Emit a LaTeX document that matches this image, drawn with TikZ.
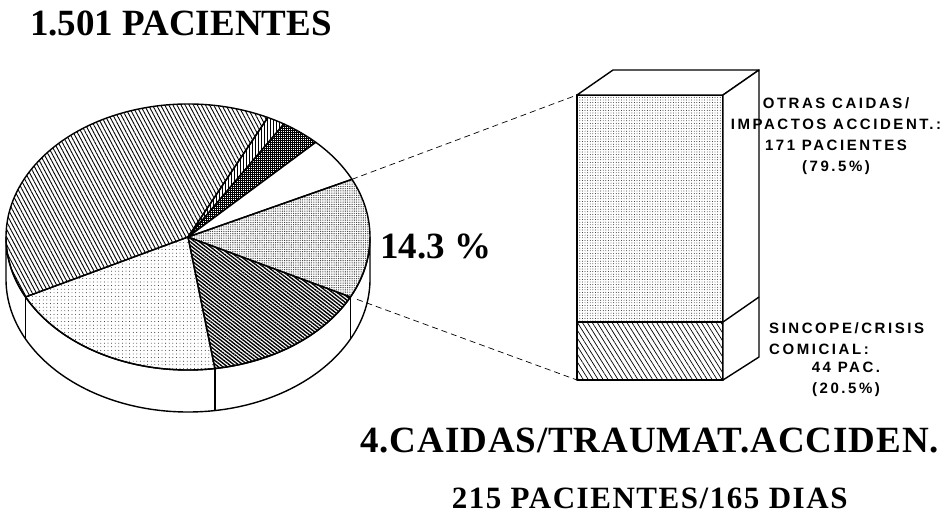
\documentclass[tikz,border=0pt]{standalone}
\usepackage{fontspec}
\setmainfont{Liberation Serif}
\setsansfont{Liberation Sans}
\usetikzlibrary{patterns.meta,positioning}

\tikzset{
  rim/.style={line width=1.4pt},
  bigtext/.style={font=\bfseries\fontsize{37}{40}\selectfont, inner sep=0pt},
  cattext/.style={font=\bfseries\fontsize{37}{40}\selectfont\addfontfeature{LetterSpace=2.5}, inner sep=0pt},
  midtext/.style={font=\bfseries\fontsize{31}{36}\selectfont\addfontfeature{LetterSpace=5}, inner sep=0pt},
  boxtext/.style={font=\sffamily\bfseries\fontsize{15}{21.3}\selectfont\addfontfeature{LetterSpace=17}, inner sep=0pt},
  face/.style={draw, line width=1.4pt, inner sep=0pt, outer sep=0pt, minimum width=146pt},
  link/.style={line width=0.7pt, dash pattern=on 6pt off 4pt},
  slicebig/.style={pattern={Lines[angle=-62,distance=3.6pt,line width=0.9pt]}},
  slicestripe/.style={pattern={Lines[angle=90,distance=3pt,line width=0.9pt]}},
  slicecross/.style={pattern={Hatch[distance=2pt,line width=0.6pt]}},
  slicewhite/.style={fill=white},
  slicedots/.style={pattern={Dots[distance=1.8pt,radius=0.45pt]}},
  slicedark/.style={pattern={Lines[angle=-38,distance=2.8pt,line width=1.4pt]}},
  slicelight/.style={pattern={Dots[distance=3.6pt,radius=0.45pt]}},
}

\begin{document}
\begin{tikzpicture}[x=1pt, y=-1pt, line join=round]
\useasboundingbox (0,0) rectangle (949,516);
\node[bigtext, anchor=base west] (total) at (30,36) {1.501 PACIENTES};

% tarta
\begin{scope}[shift={(188,237)}, y=1pt, rim]
  \draw[fill=white] (180:182 and 133) arc[start angle=180, end angle=360, x radius=182, y radius=133]
    -- ++(0,-42) arc[start angle=360, end angle=180, x radius=182, y radius=133] -- cycle;
  \foreach \a in {206.8,278.5,333.2}
    \draw (\a:182 and 133) -- ++(0,-42);
  \foreach \a/\b/\s in {64/206.8/slicebig, 58.2/64/slicestripe, 45.4/58.2/slicecross,
                        25.7/45.4/slicewhite, -26.8/25.7/slicedots, -81.5/-26.8/slicedark,
                        206.8/278.5/slicelight}
    \draw[\s] (0,0) -- (\a:182 and 133) arc[start angle=\a, end angle=\b, x radius=182, y radius=133] -- cycle;
  \coordinate (rimtop) at (25.7:182 and 133);
  \coordinate (rimbot) at (333.2:182 and 133);
\end{scope}
\node[bigtext, anchor=base west] (pct) at (380,258) {14.3~\%};

% columna
\node[face, minimum height=227pt, anchor=north west, pattern={Dots[distance=2.6pt,radius=0.45pt]}] (otras) at (577,95) {};
\node[face, minimum height=58pt, below=0pt of otras, pattern={Lines[angle=-58,distance=4.2pt,line width=0.7pt]}] (sincope) {};
\draw[rim, fill=white] (otras.north west) -- ++(36,-25) -- ++(146,0) -- (otras.north east) -- cycle;
\draw[rim, fill=white] (otras.north east) -- ++(36,-25) -- ++(0,287) -- (sincope.south east) -- cycle;
\draw[rim] (sincope.north east) -- ++(36,-25);
\draw[link] (rimtop) -- (otras.north west);
\draw[link, shorten <=7pt] (rimbot) -- (sincope.south west);

\node[boxtext, align=center, anchor=north] (otraslbl) at (836,97) {OTRAS CAIDAS/\\IMPACTOS ACCIDENT.:\\171 PACIENTES\\(79.5\%)};
\node[boxtext, align=left, anchor=north west] (sincopelbl) at (769,322) {SINCOPE/CRISIS\\COMICIAL:};
\node[boxtext, align=center, anchor=north] (paclbl) at (846,362) {44 PAC.\\(20.5\%)};

\node[cattext, anchor=base west] (categoria) at (360,452) {4.CAIDAS/TRAUMAT.ACCIDEN.};
\node[midtext, anchor=base] (dias) at (categoria.base |- 0,508) {215 PACIENTES/165 DIAS};
\end{tikzpicture}
\end{document}
